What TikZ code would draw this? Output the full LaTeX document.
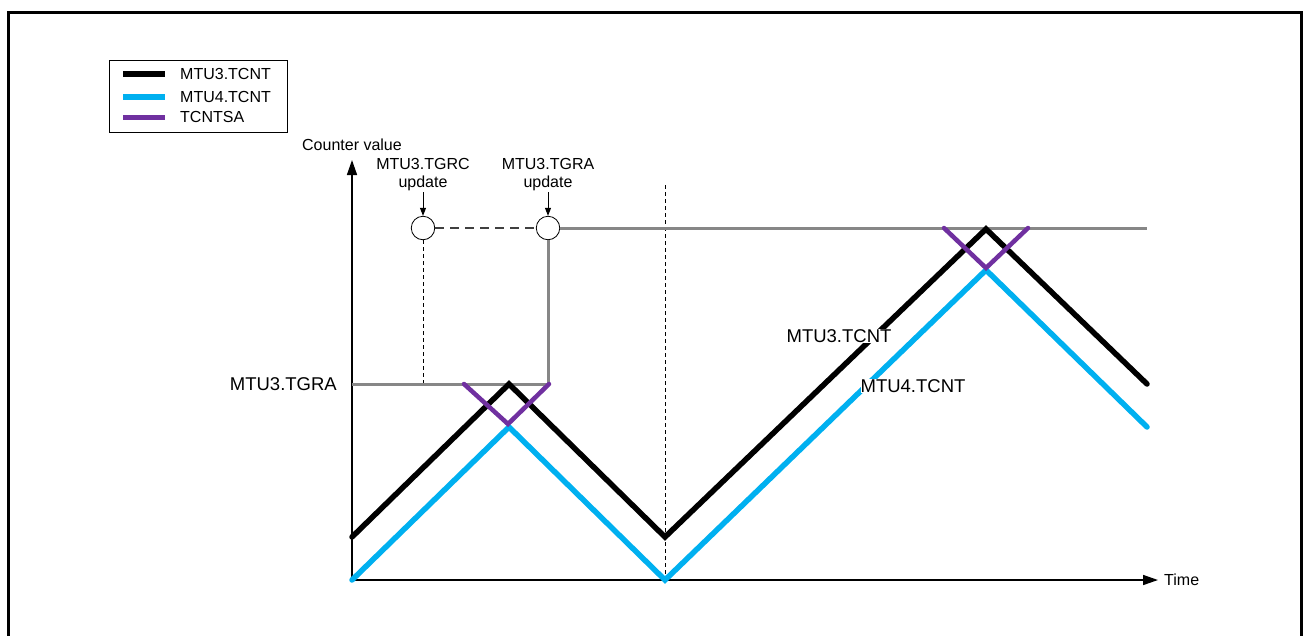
\documentclass[tikz,border=0pt]{standalone}
\usepackage{fontspec}
\setmainfont{Liberation Sans}
\usepackage{tikz}
\usetikzlibrary{arrows.meta, positioning, calc}
\usepackage{xcolor}
\definecolor{mtublue}{RGB}{0, 176, 240}
\definecolor{mtupurple}{RGB}{112, 48, 160}
\definecolor{mtugray}{RGB}{135, 135, 135}

\tikzset{
  smalltxt/.style={font=\fontsize{16}{18}\selectfont, inner sep=1pt},
  bigtxt/.style={font=\fontsize{18.5}{21}\selectfont, inner sep=1pt},
  tcnt3/.style={line width=5.5pt, black, line cap=round, line join=miter},
  tcnt4/.style={line width=5.5pt, mtublue, line cap=round, line join=miter},
  tcntsa/.style={line width=4.5pt, mtupurple, line cap=round, line join=miter},
  tgra/.style={line width=3pt, mtugray},
  circ/.style={circle, draw, thick, fill=white, minimum size=23.5pt, inner sep=0pt},
  axis/.style={line width=1.5pt, -{Triangle[length=15pt, width=10pt]}},
  pointer/.style={line width=1pt, -{Triangle[length=8pt, width=6pt]}}
}

\begin{document}
\begin{tikzpicture}[x=1pt, y=-1pt]
    \useasboundingbox (0,0) rectangle (1303,635);

    % --- Ramka ---
    \draw[line width=3pt] (8,640) -- (8,12) -- (1301,12) -- (1301,640);

    % --- Legenda ---
    \node[draw, line width=1.2pt, minimum width=178pt, minimum height=72pt, anchor=north west] (legend) at (109,60) {};
    \draw[tcnt3, line cap=butt] (123,74) -- (165,74);
    \draw[tcnt4, line cap=butt] (123,97) -- (165,97);
    \draw[tcntsa, line width=5pt, line cap=butt] (123,117) -- (165,117);
    \node[smalltxt, anchor=west] (leg3) at (179,74) {MTU3.TCNT};
    \node[smalltxt, anchor=west] (leg4) at (179,97) {MTU4.TCNT};
    \node[smalltxt, anchor=west] (legsa) at (179,117) {TCNTSA};

    % --- Osie ---
    \coordinate (origin) at (352,580);
    \coordinate (ytop) at (352,160);
    \coordinate (xend) at (1158,580);
    \draw[axis] (origin) -- (ytop);
    \draw[axis] (origin) -- (xend);
    \node[smalltxt, anchor=west] (time) at (1163,580) {Time};
    \node[smalltxt] (cvalue) at (352,145) {Counter value};

    % --- Punkty aktualizacji ---
    \node[circ] (tgrc) at (423,228) {};
    \node[circ] (tgraup) at (548,228) {};
    \node[smalltxt, align=center, anchor=south] (tgrclabel) at (423,192) {MTU3.TGRC\\update};
    \node[smalltxt, align=center, anchor=south] (tgralabel) at (548,192) {MTU3.TGRA\\update};
    \draw[pointer] (tgrclabel.south) -- (tgrc.north);
    \draw[pointer] (tgralabel.south) -- (tgraup.north);

    % --- Linie przerywane ---
    \coordinate (tgrcbase) at (423,384);
    \coordinate (midtop) at (665,185);
    \coordinate (midbot) at (665,580);
    \draw[line width=1.5pt, black!75, dash pattern=on 9pt off 6pt] (tgrc) -- (tgraup);
    \draw[line width=1pt, dash pattern=on 4pt off 3pt] (tgrc.south) -- (tgrcbase);
    \draw[line width=1pt, dash pattern=on 4pt off 3pt] (midtop) -- (midbot);

    % --- Wartosc MTU3.TGRA ---
    \coordinate (tgrastart) at (352,384);
    \coordinate (tgrastep) at (548,384);
    \coordinate (tgraend) at (1147,228);
    \draw[tgra] (tgrastart) -- (tgrastep) -- (tgraup.south);
    \draw[tgra] (tgraup.east) -- (tgraend);
    \node[bigtxt, anchor=east] (tgraval) at (338,384) {MTU3.TGRA};

    % --- Liczniki ---
    \draw[tcnt4] (352,580) -- (509,427) -- (665,580) -- (986,270) -- (1147,427);
    \draw[tcnt3] (352,537) -- (509,384) -- (665,537) -- (986,229) -- (1147,384);
    \draw[tcntsa] (464,384) -- (508,424) -- (549,384);
    \draw[tcntsa] (944,228) -- (986,268) -- (1028,228);

    % --- Etykiety licznikow ---
    \node[bigtxt, fill=white, inner sep=0pt] (lab3) at (839,336) {MTU3.TCNT};
    \node[bigtxt, fill=white, inner sep=0pt] (lab4) at (913,386) {MTU4.TCNT};
\end{tikzpicture}
\end{document}
